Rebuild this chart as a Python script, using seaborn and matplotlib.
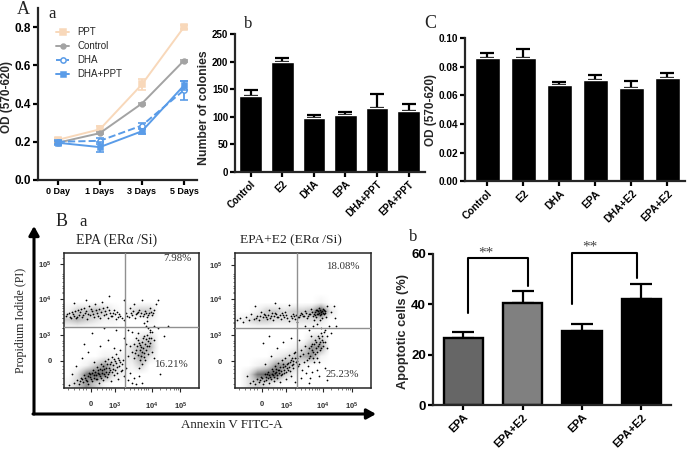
import numpy as np
import pandas as pd
import seaborn as sns
import matplotlib
matplotlib.use("Agg")
import matplotlib.pyplot as plt

# panel A a, growth curves
days = ["0 Day", "1 Days", "3 Days", "5 Days"]
ppt = [0.21, 0.265, 0.50, 0.80]
ppt_err = [0.01, 0.015, 0.03, 0.012]
control = [0.195, 0.245, 0.40, 0.625]
control_err = [0.005, 0.005, 0.005, 0.005]
dha = [0.20, 0.205, 0.285, 0.47]
dha_err = [0.01, 0.015, 0.015, 0.05]
dha_ppt = [0.195, 0.172, 0.255, 0.495]
dha_ppt_err = [0.01, 0.025, 0.012, 0.025]

# panel A b, colonies
colony_names = ["Control", "E2", "DHA", "EPA", "DHA+PPT", "EPA+PPT"]
colonies = [137.5, 198.5, 98.4, 103.9, 116, 111]
colonies_err = [11, 8.5, 4.3, 4.8, 25, 12.8]

# panel C
od_names = ["Control", "E2", "DHA", "EPA", "DHA+E2", "EPA+E2"]
od = [0.0858, 0.0863, 0.0672, 0.0709, 0.0653, 0.0723]
od_err = [0.004, 0.0063, 0.0023, 0.0031, 0.0049, 0.003]

# panel B b, apoptosis
apo_names = ["EPA", "EPA+E2", "EPA", "EPA+E2"]
apo = [26.6, 40.4, 29.6, 42.2]
apo_err = [2.3, 4.8, 2.5, 5.9]
apo_colors = ["#666666", "#808080", "#000000", "#000000"]

# flow plots: darkness of the dot clouds per 9 px cell
left_cloud = ["000000000000000"] * 5 + [
    "000000000000000", "133431023300000", "343211000100000", "000000000000000",
    "000000002300000", "000000024400000", "000011125200000", "001353113000000",
    "026762100000000", "135310000000000"]
right_cloud = ["000000000000000"] * 5 + [
    "000000000100000", "001332334820000", "123322222200000", "000000000000000",
    "000000002300000", "000000125500000", "000012345100000", "001255310000000",
    "026773100000000", "023210000000000"]

# single dots, in px inside the 135 px flow box
left_dots = [(3,74),(6,71),(8,76),(10,72),(12,70),(14,78),(15,73),(18,71),(20,80),(21,75),(23,69),(25,82),
    (26,73),(28,77),(30,71),(31,84),(33,75),(35,79),(36,70),(38,86),(40,73),(41,77),(43,81),(44,70),(46,75),
    (48,72),(50,78),(52,69),(54,71),(55,74),(58,70),(60,68),(62,75),(65,71),(66,80),(68,73),(70,84),(71,70),
    (73,75),(75,78),(76,72),(78,88),(80,74),(81,77),(83,71),(85,75),(86,80),(88,73),(90,78),(92,84),(94,88),
    (10,85),(22,88),(45,92),(60,88),(80,65),(82,62),(84,60),(86,58),(83,67),(88,56),(90,62),(94,60),
    (70,30),(72,38),(74,33),(75,45),(76,28),(77,41),(78,36),(79,50),(80,31),(81,44),(82,38),(83,53),(84,47),
    (85,42),(86,56),(87,50),(72,50),(70,44),(68,36),(66,42),(78,24),(75,20),(90,48),(88,36),(74,55),(68,56),
    (62,44),(64,32),(10,5),(13,8),(15,4),(17,10),(19,6),(20,13),(22,8),(24,4),(25,15),(26,11),(28,7),(29,18),
    (30,13),(32,9),(33,21),(34,15),(35,5),(36,12),(37,24),(38,18),(39,8),(40,14),(41,27),(42,20),(43,11),
    (44,29),(45,16),(46,24),(47,7),(48,31),(49,19),(50,13),(51,27),(52,34),(53,21),(54,9),(55,28),(57,17),
    (58,24),(60,12),(62,20),(64,8),(66,15),(68,5),(70,10),(72,4),(75,12),(78,5),(5,3),(8,14),(12,22),(18,30),
    (24,36),(30,26),(36,42),(20,44),(44,48),(50,40),(56,38),(60,50),(28,55),(64,58),(52,58),(40,60),(96,14),
    (90,30),(104,62),(100,52),
    (2,72),(5,75),(7,70),(9,74),(11,77),(13,71),(16,76),(17,79),(19,73),(22,77),(24,74),(27,79),(29,74),(32,78),
    (34,72),(37,76),(39,80),(42,74),(45,78),(47,72),(49,75),(51,74),(53,76),(56,72),(63,72),(67,75),(69,77),
    (72,74),(74,76),(77,75),(79,72),(82,75),(84,73),(87,76),(89,75),
    (71,35),(73,42),(76,38),(77,32),(78,46),(79,40),(80,35),(81,28),(82,49),(83,42),(84,34),(85,50),(76,43),
    (74,48),(80,52),(86,45),(16,7),(18,9),(21,10),(23,7),(24,12),(26,14),(27,9),(28,15),(30,10),(31,16),(32,13),
    (33,9),(34,18),(35,14),(36,19),(37,10),(38,15),(39,22),(40,19),(41,12),(42,16),(43,24),(44,14),(45,20),
    (46,18),(47,26),(48,16),(49,23),(50,29),(51,18),(52,25),(53,15),(54,30),(55,22),(56,26),(58,18),(59,28)]
right_dots = [(2,68),(5,70),(8,66),(11,71),(14,68),(16,74),(19,69),(22,72),(24,68),(26,76),(28,71),(30,73),
    (32,69),(34,78),(36,72),(38,68),(40,75),(42,71),(44,80),(46,69),(48,73),(50,76),(52,70),(54,67),(56,72),
    (58,74),(60,69),(62,66),(64,71),(66,75),(68,72),(70,77),(72,70),(74,74),(76,79),(78,72),(80,76),(81,71),
    (82,78),(83,74),(84,80),(85,73),(86,76),(87,70),(88,79),(89,74),(90,77),(91,71),(92,82),(85,68),(79,68),
    (96,76),(99,70),(98,82),(20,82),(40,85),(54,83),(78,62),(82,64),(86,60),(90,58),(70,62),(74,58),(94,62),
    (96,55),(72,28),(74,40),(75,32),(77,44),(78,36),(79,26),(80,48),(81,40),(82,30),(83,52),(84,44),(85,38),
    (86,55),(87,48),(88,42),(89,56),(90,46),(70,42),(68,34),(66,38),(64,48),(62,30),(60,36),(58,24),(92,52),
    (84,26),(76,52),(92,40),(15,5),(18,7),(20,4),(22,9),(24,6),(26,11),(28,4),(30,14),(31,8),(33,16),(34,5),
    (35,11),(37,19),(38,13),(39,7),(40,22),(41,16),(42,10),(43,25),(44,18),(45,6),(46,13),(47,28),(48,21),
    (49,15),(50,30),(51,9),(52,24),(53,18),(54,33),(55,26),(56,12),(57,30),(58,20),(59,35),(61,26),(63,22),
    (65,32),(67,18),(69,26),(71,15),(73,22),(75,10),(77,16),(30,24),(36,32),(42,40),(28,45),(34,52),(48,46),
    (56,50),(66,10),(74,5),(84,12),(92,8),(82,18),(60,6),(90,20),(100,62),(12,12),
    (21,70),(25,72),(29,74),(31,71),(33,73),(35,70),(37,75),(39,72),(41,74),(43,71),(45,73),(47,75),(49,71),
    (51,73),(57,70),(59,72),(61,73),(63,71),(65,73),(67,74),(69,72),(71,75),(73,72),(75,74),(77,76),(79,74),
    (80,73),(81,78),(82,74),(83,77),(84,75),(85,78),(86,74),(87,77),(88,75),(89,78),(90,75),
    (73,35),(74,30),(76,42),(77,38),(78,30),(79,44),(80,34),(81,46),(82,36),(83,42),(84,50),(85,46),(86,40),
    (87,52),(88,46),(25,8),(27,10),(29,7),(31,11),(32,14),(33,10),(34,13),(36,9),(37,14),(38,17),(39,11),(40,15),
    (41,19),(42,13),(43,18),(44,15),(45,21),(46,17),(47,14),(48,24),(49,18),(50,22),(51,16),(52,20),(53,25),
    (54,21),(55,17),(56,28),(57,23),(58,27),(60,30),(62,27),(64,24)]

flow_y_ticks = [123.7, 89, 53, 27]
flow_y_labels = ["10$^5$", "10$^4$", "10$^3$", "0"]
flow_x_ticks = [26.7, 51, 87.7, 116]
flow_x_labels = ["0", "10$^3$", "10$^4$", "10$^5$"]
flow_minor = [4, 10, 15, 19, 22, 33, 38, 42, 45, 47, 60, 66, 70, 74, 77, 80, 82, 84, 96, 102, 106, 110, 112, 114]

W, H = 689, 455
sns.set_theme(style="ticks")
plt.rcParams["font.family"] = ["Liberation Sans", "DejaVu Sans"]
plt.rcParams["font.weight"] = "bold"
plt.rcParams["axes.labelweight"] = "bold"
plt.rcParams["mathtext.default"] = "regular"

fig = plt.figure(figsize=(W / 100, H / 100), dpi=100, facecolor="white")


def add_ax(left, top, right, bottom):
    return fig.add_axes([left / W, 1 - bottom / H, (right - left) / W, (bottom - top) / H])


def style_ax(ax, lw=1.6):
    sns.despine(ax=ax)
    for s in ["left", "bottom"]:
        ax.spines[s].set_linewidth(lw)
    ax.patch.set_alpha(0)
    ax.tick_params(length=3.5, width=lw, pad=1.5, colors="black")


def bar_panel(ax, names, values, errs, top, ticks, ylabel, fmt, xlim, width, ysize, xsize):
    pos = list(range(len(names)))
    sns.barplot(x=pos, y=values, color="black", width=width, errorbar=None, ax=ax, zorder=2)
    ax.errorbar(pos, values, yerr=[[0] * len(errs), errs], fmt="none", ecolor="black",
                elinewidth=1.6, capsize=4.7, capthick=1.6, zorder=1)
    ax.set_xlim(*xlim)
    ax.set_ylim(0, top)
    ax.set_yticks(ticks)
    ax.set_yticklabels([fmt.format(t) for t in ticks], fontsize=ysize)
    ax.set_xticks(pos)
    ax.set_xticklabels(names, rotation=45, ha="right", rotation_mode="anchor", fontsize=xsize)
    ax.set_ylabel(ylabel, fontsize=8.5)
    style_ax(ax)


# A a
ax = add_ax(37.5, 8, 197, 180)
growth = pd.DataFrame({
    "day": [0, 1, 2, 3] * 4,
    "od": ppt + control + dha + dha_ppt,
    "err": ppt_err + control_err + dha_err + dha_ppt_err,
    "group": ["PPT"] * 4 + ["Control"] * 4 + ["DHA"] * 4 + ["DHA+PPT"] * 4,
})
styles = {
    "PPT": dict(color="#f8d8ba", marker="s", ms=5, mfc="#f8d8ba", ls="-"),
    "Control": dict(color="#a3a3a3", marker="o", ms=3.5, mfc="#a3a3a3", ls="-"),
    "DHA": dict(color="#5a9ce8", marker="o", ms=3.8, mfc="white", ls="--"),
    "DHA+PPT": dict(color="#5a9ce8", marker="s", ms=3.6, mfc="#5a9ce8", ls="-"),
}
for name, st in styles.items():
    sub = growth[growth["group"] == name]
    ax.errorbar(sub["day"], sub["od"], yerr=sub["err"], fmt="none", ecolor=st["color"], elinewidth=1.3,
                capsize=2.6, capthick=1.2)
    sns.lineplot(data=sub, x="day", y="od", color=st["color"], linewidth=1.4, linestyle=st["ls"],
                 marker=st["marker"], markersize=st["ms"], markerfacecolor=st["mfc"],
                 markeredgecolor=st["color"], markeredgewidth=1.1, label=name, errorbar=None, ax=ax)
ax.set_xlim(-0.48, 3.31)
ax.set_ylim(0, 0.9)
ax.set_yticks([0, 0.2, 0.4, 0.6, 0.8])
ax.set_yticklabels(["0.0", "0.2", "0.4", "0.6", "0.8"], fontsize=8.5)
ax.set_xticks(range(4))
ax.set_xticklabels(days, fontsize=6.5)
ax.set_xlabel("")
ax.set_ylabel("OD (570-620)", fontsize=8.5)
ax.yaxis.set_label_coords(-0.153, 0.48)
style_ax(ax)
ax.legend(loc="upper left", bbox_to_anchor=(0.115, 0.89), frameon=False, handlelength=1.4,
          labelspacing=0.42, handletextpad=0.8, borderaxespad=0, borderpad=0,
          prop={"size": 7, "weight": "normal"})

# A b
ax = add_ax(235, 34, 425, 172)
bar_panel(ax, colony_names, colonies, colonies_err, 250, [0, 50, 100, 150, 200, 250], "Number of colonies",
          "{:d}", (-0.5, 5.52), 0.72, 7, 7)
ax.yaxis.label.set_fontsize(8.8)
ax.yaxis.set_label_coords(-0.129, 0.467)

# C
ax = add_ax(465, 38, 685, 181.3)
bar_panel(ax, od_names, od, od_err, 0.10, [0, 0.02, 0.04, 0.06, 0.08, 0.10], "OD (570-620)",
          "{:.2f}", (-0.62, 5.49), 0.7, 7.2, 7.5)
ax.yaxis.set_label_coords(-0.127, 0.5)

# B b
ax = add_ax(433, 254, 671, 405.3)
pos = [0, 1, 2, 3]
sns.barplot(x=pos, y=apo, hue=pos, palette=apo_colors, legend=False, width=0.66, edgecolor="black",
            linewidth=1.7, errorbar=None, ax=ax, zorder=2)
ax.errorbar(pos, apo, yerr=[[0] * 4, apo_err], fmt="none", ecolor="black", elinewidth=1.6,
            capsize=7.8, capthick=1.6, zorder=1)
ax.set_xlim(-0.51, 3.5)
ax.set_ylim(0, 60)
ax.set_yticks([0, 20, 40, 60])
ax.set_yticklabels(["0", "20", "40", "60"], fontsize=9.5)
ax.set_xticks(pos)
ax.set_xticklabels(apo_names, rotation=45, ha="right", rotation_mode="anchor", fontsize=8)
ax.set_ylabel("Apoptotic cells (%)", fontsize=9.2)
ax.yaxis.set_label_coords(-0.1, 0.485)
style_ax(ax)
ax.plot([0.085, 0.085, 1.09, 1.09], [36.5, 58.3, 58.3, 47.3], color="black", lw=1.5, clip_on=False)
ax.plot([1.837, 1.837, 2.92, 2.92], [40, 60.5, 60.5, 50.3], color="black", lw=1.5, clip_on=False)
ax.text(0.385, 57.8, "**", ha="center", va="bottom", color="#444444", fontsize=11,
        family="Liberation Serif", weight="normal")
ax.text(2.13, 60, "**", ha="center", va="bottom", color="#444444", fontsize=11,
        family="Liberation Serif", weight="normal")


def flow_panel(ax, cloud, dots, upper, lower, upper_xy, lower_xy, gate):
    grid = np.array([[int(c) for c in row] for row in cloud])
    ax.imshow(grid, cmap="Greys", vmin=0, vmax=10, extent=(0, 135, 0, 135), interpolation="bilinear",
              aspect="auto", zorder=1)
    d = pd.DataFrame(dots, columns=["x", "y"])
    sns.scatterplot(data=d, x="x", y="y", s=1.6, color="black", linewidth=0, ax=ax, zorder=2)
    ax.axvline(gate[0], color="#909090", lw=1, zorder=3)
    ax.axhline(gate[1], color="#909090", lw=1, zorder=3)
    ax.set_xlim(0, 135)
    ax.set_ylim(0, 135)
    ax.set_xlabel("")
    ax.set_ylabel("")
    ax.set_xticks(flow_x_ticks)
    ax.set_xticklabels(flow_x_labels, fontsize=5.5, color="#333333")
    ax.set_yticks(flow_y_ticks)
    ax.set_yticklabels(flow_y_labels, fontsize=5.5, color="#333333")
    ax.set_xticks(flow_minor, minor=True)
    ax.set_yticks(flow_minor + [130, 100, 95, 70, 65, 60], minor=True)
    ax.tick_params(which="major", length=3, width=0.8, pad=6)
    ax.tick_params(which="minor", length=1.5, width=0.5, color="#444444")
    for s in ax.spines.values():
        s.set_linewidth(1.1)
    ax.text(*upper_xy, upper, fontsize=7.8, family="Liberation Serif", weight="normal", color="#333333",
            ha="center", va="center", zorder=4)
    ax.text(*lower_xy, lower, fontsize=7.8, family="Liberation Serif", weight="normal", color="#333333",
            ha="center", va="center", zorder=4)


ax = add_ax(64, 252.7, 199.3, 388)
flow_panel(ax, left_cloud, left_dots, "7.98%", "16.21%", (113, 129), (107, 23), (60.7, 60.5))
ax = add_ax(235, 253.3, 370.7, 388.3)
flow_panel(ax, right_cloud, right_dots, "18.08%", "25.23%", (107, 122), (107, 14), (61.7, 60))

# overlay in px for the big arrows and panel letters
over = fig.add_axes([0, 0, 1, 1], zorder=10)
over.set_xlim(0, W)
over.set_ylim(H, 0)
over.axis("off")
arrow = dict(arrowstyle="-|>,head_width=0.25,head_length=0.45", color="black", lw=2.2, shrinkA=0, shrinkB=0)
over.annotate("", xy=(34, 226), xytext=(34, 414), arrowprops=arrow)
over.annotate("", xy=(376, 414), xytext=(33, 414), arrowprops=arrow)
serif = dict(family="Liberation Serif", weight="normal", color="#222222", ha="center", va="center")
for x, y, s, size in [(23, 10, "A", 13), (52, 14, "a", 12), (248, 24, "b", 12), (430, 24, "C", 13),
                      (62, 222, "B", 13), (83, 222, "a", 12), (413, 237, "b", 12)]:
    over.text(x, y, s, fontsize=size, **serif)
over.text(117, 240, "EPA (ER\u03b1 /Si)", fontsize=10, **serif)
over.text(290.5, 240, "EPA+E2 (ER\u03b1 /Si)", fontsize=9.7, **serif)
over.text(232, 425, "Annexin V FITC-A", fontsize=9.4, **serif)
over.text(21, 320, "Propidium Iodide (PI)", fontsize=8.6, rotation=90, **serif)

fig.savefig("out.png", dpi=100)
